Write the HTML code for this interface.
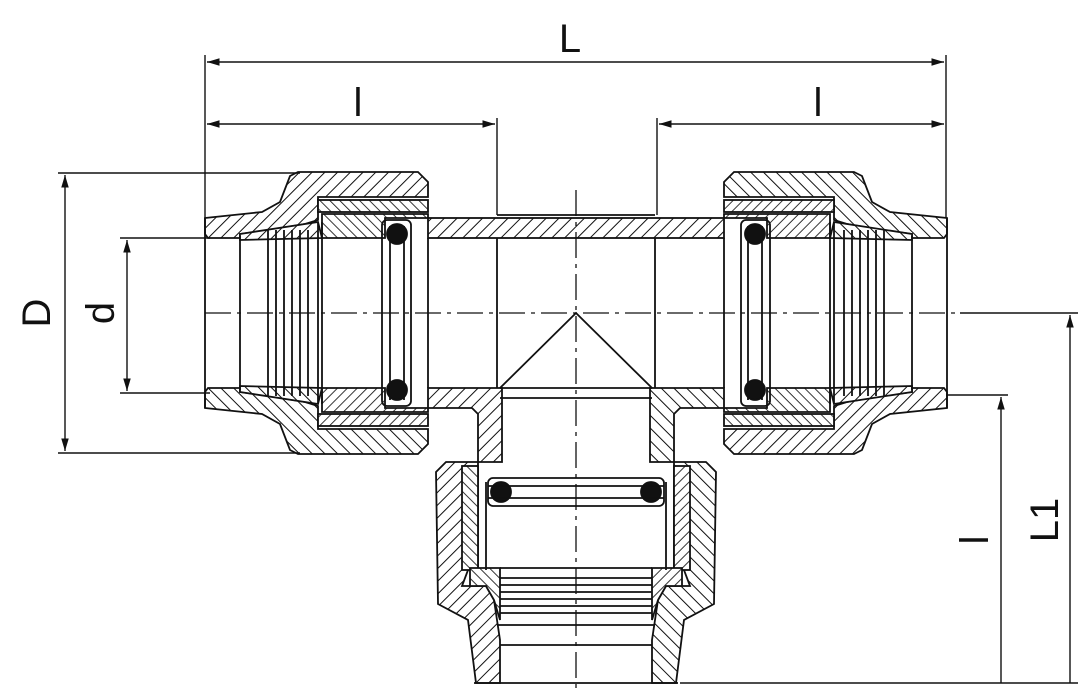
<!DOCTYPE html>
<html><head><meta charset="utf-8"><style>
html,body{margin:0;padding:0;background:#fff;}
svg{display:block;}
text{font-family:"Liberation Sans",sans-serif;fill:#111;}
</style></head><body>
<svg width="1089" height="698" viewBox="0 0 1089 698" xmlns="http://www.w3.org/2000/svg">
<defs>
<pattern id="h" patternUnits="userSpaceOnUse" width="9" height="9" patternTransform="rotate(45)">
<rect width="9" height="9" fill="#fff"/><line x1="0" y1="0" x2="0" y2="9" stroke="#111" stroke-width="2"/>
</pattern>
<pattern id="h2" patternUnits="userSpaceOnUse" width="7" height="7" patternTransform="rotate(-45)">
<rect width="7" height="7" fill="#fff"/><line x1="0" y1="0" x2="0" y2="7" stroke="#111" stroke-width="1.7"/>
</pattern>
<marker id="a" viewBox="0 0 10 10" refX="10" refY="5" markerWidth="9" markerHeight="9" orient="auto-start-reverse"><path d="M0,2 L10,5 L0,8 z" fill="#111"/></marker>
<g id="qt" stroke="#111" stroke-width="1.8">
<polygon fill="url(#h)" points="205,218 262,212 280,202 290,176 298,172 418,172 428,182 428,197 318,197 318,220 305,224 270,230 240,234 240,238 208,238 205,234"/>
<rect x="318" y="200" width="110" height="12" fill="url(#h2)"/>
<polygon fill="url(#h2)" points="322,214 428,214 428,218 385,218 385,238 322,238"/>
<polygon fill="url(#h)" points="240,234 318,222 322,238 240,240"/>
</g>
<g id="half" stroke="#111" stroke-width="1.8" fill="none">
<use href="#qt"/>
<use href="#qt" transform="translate(0,626) scale(1,-1)"/>
<line x1="205" y1="218" x2="205" y2="408"/>
<line x1="240" y1="236" x2="240" y2="390"/>
<line x1="268" y1="230" x2="268" y2="396"/><line x1="276" y1="230" x2="276" y2="396"/>
<line x1="284" y1="230" x2="284" y2="396"/><line x1="292" y1="230" x2="292" y2="396"/>
<line x1="300" y1="230" x2="300" y2="396"/><line x1="308" y1="230" x2="308" y2="396"/>
<line x1="318" y1="222" x2="318" y2="404"/><line x1="322" y1="222" x2="322" y2="404"/>
<rect x="382" y="220" width="29" height="186" rx="5"/>
<line x1="390" y1="226" x2="390" y2="400"/><line x1="404" y1="226" x2="404" y2="400"/>
<line x1="428" y1="238" x2="428" y2="388"/>
<line x1="497" y1="238" x2="497" y2="388"/>
<circle cx="397" cy="234" r="10" fill="#111"/>
<circle cx="397" cy="390" r="10" fill="#111"/>
<polygon fill="url(#h)" points="428,388 502,388 502,462 478,462 478,414 472,408 428,408"/>
<polygon fill="url(#h)" points="446,462 478,462 478,568 468,570 462,586 486,586 494,600 500,640 500,683 476,683 468,620 438,604 436,472"/>
<rect x="462" y="466" width="16" height="104" fill="url(#h2)"/>
<polygon fill="url(#h2)" points="470,568 500,568 500,620 494,600 486,586 470,586"/>
<line x1="486" y1="482" x2="486" y2="570"/>
<circle cx="501" cy="492" r="10" fill="#111"/>
</g>
</defs>
<rect width="1089" height="698" fill="#fff"/>
<use href="#half"/>
<use href="#half" transform="translate(1152,0) scale(-1,1)"/>
<g stroke="#111" stroke-width="1.8" fill="none">
<rect x="428" y="218" width="296" height="20" fill="url(#h)"/>
<line x1="497" y1="215" x2="655" y2="215"/>
<line x1="500" y1="388" x2="652" y2="388"/>
<line x1="500" y1="398" x2="652" y2="398"/>
<rect x="488" y="478" width="176" height="28" rx="5"/>
<line x1="488" y1="486" x2="664" y2="486"/><line x1="488" y1="498" x2="664" y2="498"/>
<line x1="500" y1="568" x2="652" y2="568"/>
<line x1="500" y1="578" x2="652" y2="578"/><line x1="500" y1="585" x2="652" y2="585"/>
<line x1="500" y1="592" x2="652" y2="592"/><line x1="500" y1="599" x2="652" y2="599"/>
<line x1="500" y1="606" x2="652" y2="606"/><line x1="500" y1="613" x2="652" y2="613"/>
<line x1="498" y1="625" x2="654" y2="625"/><line x1="500" y1="645" x2="652" y2="645"/>
<line x1="474" y1="683" x2="678" y2="683"/>
<polyline points="500,388 576,313 652,388"/>
</g>
<g stroke="#111" stroke-width="1.3" fill="none" stroke-dasharray="26,6,4,6">
<line x1="205" y1="313" x2="960" y2="313"/>
<line x1="576" y1="190" x2="576" y2="690"/>
</g>
<g stroke="#111" stroke-width="1.4" fill="none">
<line x1="205" y1="55" x2="205" y2="218"/><line x1="946" y1="55" x2="946" y2="218"/>
<line x1="497" y1="118" x2="497" y2="215"/><line x1="657" y1="118" x2="657" y2="215"/>
<line x1="207" y1="62" x2="944" y2="62" marker-start="url(#a)" marker-end="url(#a)"/>
<line x1="207" y1="124" x2="495" y2="124" marker-start="url(#a)" marker-end="url(#a)"/>
<line x1="659" y1="124" x2="944" y2="124" marker-start="url(#a)" marker-end="url(#a)"/>
<line x1="58" y1="173" x2="300" y2="173"/><line x1="58" y1="453" x2="300" y2="453"/>
<line x1="65" y1="175" x2="65" y2="451" marker-start="url(#a)" marker-end="url(#a)"/>
<line x1="120" y1="238" x2="210" y2="238"/><line x1="120" y1="393" x2="210" y2="393"/>
<line x1="127" y1="240" x2="127" y2="391" marker-start="url(#a)" marker-end="url(#a)"/>
<line x1="960" y1="313" x2="1078" y2="313"/><line x1="680" y1="683" x2="1078" y2="683"/>
<line x1="946" y1="395" x2="1008" y2="395"/>
<line x1="1070" y1="315" x2="1070" y2="683" marker-start="url(#a)"/>
<line x1="1001" y1="397" x2="1001" y2="683" marker-start="url(#a)"/>
</g>
<text x="570" y="52" font-size="40" text-anchor="middle">L</text>
<text x="358" y="116" font-size="40" text-anchor="middle">l</text>
<text x="818" y="116" font-size="40" text-anchor="middle">l</text>
<text transform="translate(50,313) rotate(-90)" font-size="40" text-anchor="middle">D</text>
<text transform="translate(114,313) rotate(-90)" font-size="40" text-anchor="middle">d</text>
<text transform="translate(988,540) rotate(-90)" font-size="40" text-anchor="middle">l</text>
<text transform="translate(1058,520) rotate(-90)" font-size="40" text-anchor="middle">L1</text>
</svg>
</body></html>
